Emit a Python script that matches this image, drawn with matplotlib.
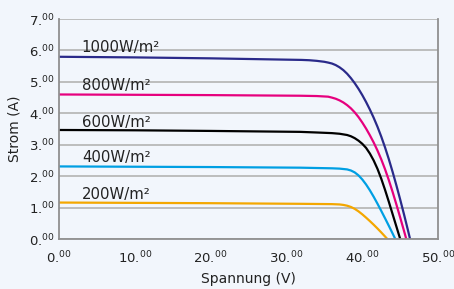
import matplotlib
matplotlib.use("Agg")
import matplotlib.pyplot as plt

plt.rcParams["font.family"] = ["DejaVu Sans"]
plt.rcParams["mathtext.default"] = "regular"

BG = "#f2f6fc"

# I-V curves (voltage V, current A)
v_1000 = [0, 10, 20, 32, 33, 34, 35, 35.5, 36, 36.5, 37, 37.5, 38, 38.5, 39, 39.5, 40, 40.5,
          41, 41.5, 42, 42.5, 43, 43.5, 44, 44.5, 45, 45.5, 46, 46.3]
i_1000 = [5.80, 5.78, 5.75, 5.70, 5.69, 5.67, 5.64, 5.615, 5.585, 5.535, 5.465, 5.375, 5.26, 5.12,
          4.96, 4.78, 4.58, 4.36, 4.12, 3.86, 3.575, 3.26, 2.915, 2.54, 2.135, 1.705, 1.255, 0.785,
          0.30, 0.0]
v_800 = [0, 10, 20, 31.8, 34, 35.5, 36, 36.5, 37, 37.5, 38, 38.5, 39, 39.5, 40, 40.5, 41,
         41.5, 42, 42.5, 43, 43.5, 44, 44.5, 45, 45.5, 45.8]
i_800 = [4.60, 4.59, 4.58, 4.56, 4.55, 4.53, 4.50, 4.464, 4.412, 4.346, 4.261, 4.158, 4.031,
         3.881, 3.707, 3.514, 3.302, 3.072, 2.818, 2.536, 2.221, 1.873, 1.497, 1.097, 0.683, 0.26, 0.0]
v_600 = [0, 10, 20, 31.8, 34, 36, 37, 38, 38.5, 39, 39.5, 40, 40.5, 41, 41.5, 42, 42.5, 43,
         43.5, 44, 44.5, 45]
i_600 = [3.47, 3.46, 3.44, 3.41, 3.39, 3.37, 3.35, 3.31, 3.27, 3.21, 3.13, 3.03, 2.90, 2.72,
         2.50, 2.235, 1.92, 1.565, 1.185, 0.79, 0.395, 0.0]
v_400 = [0, 10, 20, 31.8, 36, 37, 38, 38.5, 39, 39.5, 40, 40.5, 41, 41.5, 42, 42.5, 43,
         43.5, 44, 44.35]
i_400 = [2.31, 2.30, 2.29, 2.27, 2.25, 2.24, 2.215, 2.18, 2.12, 2.025, 1.895, 1.735, 1.55,
         1.345, 1.125, 0.895, 0.66, 0.42, 0.175, 0.0]
v_200 = [0, 10, 20, 31.8, 36, 37, 37.5, 38, 38.5, 39, 39.5, 40, 40.5, 41, 41.5, 42, 42.5,
         43, 43.3]
i_200 = [1.16, 1.15, 1.14, 1.12, 1.11, 1.10, 1.085, 1.06, 1.02, 0.96, 0.88, 0.785, 0.68, 0.57,
         0.455, 0.335, 0.21, 0.08, 0.0]

labels = ["1000W/m²", "800W/m²", "600W/m²", "400W/m²", "200W/m²"]
label_y = [6.08, 4.87, 3.72, 2.60, 1.43]
colors = ["#2a2a8a", "#e6007e", "#000000", "#009fe3", "#f4a700"]

x_ticks = [0, 10, 20, 30, 40, 50]
y_ticks = [0, 1, 2, 3, 4, 5, 6, 7]

fig = plt.figure(figsize=(4.54, 2.89), dpi=100, facecolor=BG)
ax = fig.add_axes([0.130, 0.173, 0.835, 0.761], facecolor=BG)

ax.set_xlim(0, 50)
ax.set_ylim(0, 7)
ax.set_yticks(y_ticks)
ax.yaxis.grid(True, color="#b8b8b8", lw=1.3)
ax.set_axisbelow(True)

series = [(v_1000, i_1000), (v_800, i_800), (v_600, i_600), (v_400, i_400), (v_200, i_200)]
for (v, i), c, lab, ly in zip(series, colors, labels, label_y):
    ax.plot(v, i, color=c, lw=1.6, solid_capstyle="butt", solid_joinstyle="round")
    ax.text(3.0, ly, lab, fontsize=10.7, color="#222222", ha="left", va="center")

ax.set_xticks(x_ticks)
ax.set_xticklabels([f"{t}.$^{{00}}$" for t in x_ticks])
ax.set_yticklabels([f"{t}.$^{{00}}$" for t in y_ticks])
ax.tick_params(length=0, labelsize=9.5, colors="#222222")
ax.tick_params(axis="x", pad=8)
ax.tick_params(axis="y", pad=3)

for side in ["left", "bottom", "right"]:
    ax.spines[side].set_color("#909090")
    ax.spines[side].set_linewidth(1.3)
ax.spines["top"].set_visible(False)

ax.set_xlabel("Spannung (V)", fontsize=10, color="#222222", labelpad=4)
ax.set_ylabel("Strom (A)", fontsize=10, color="#222222", labelpad=5)

fig.savefig("out.png", dpi=100, facecolor=BG)
